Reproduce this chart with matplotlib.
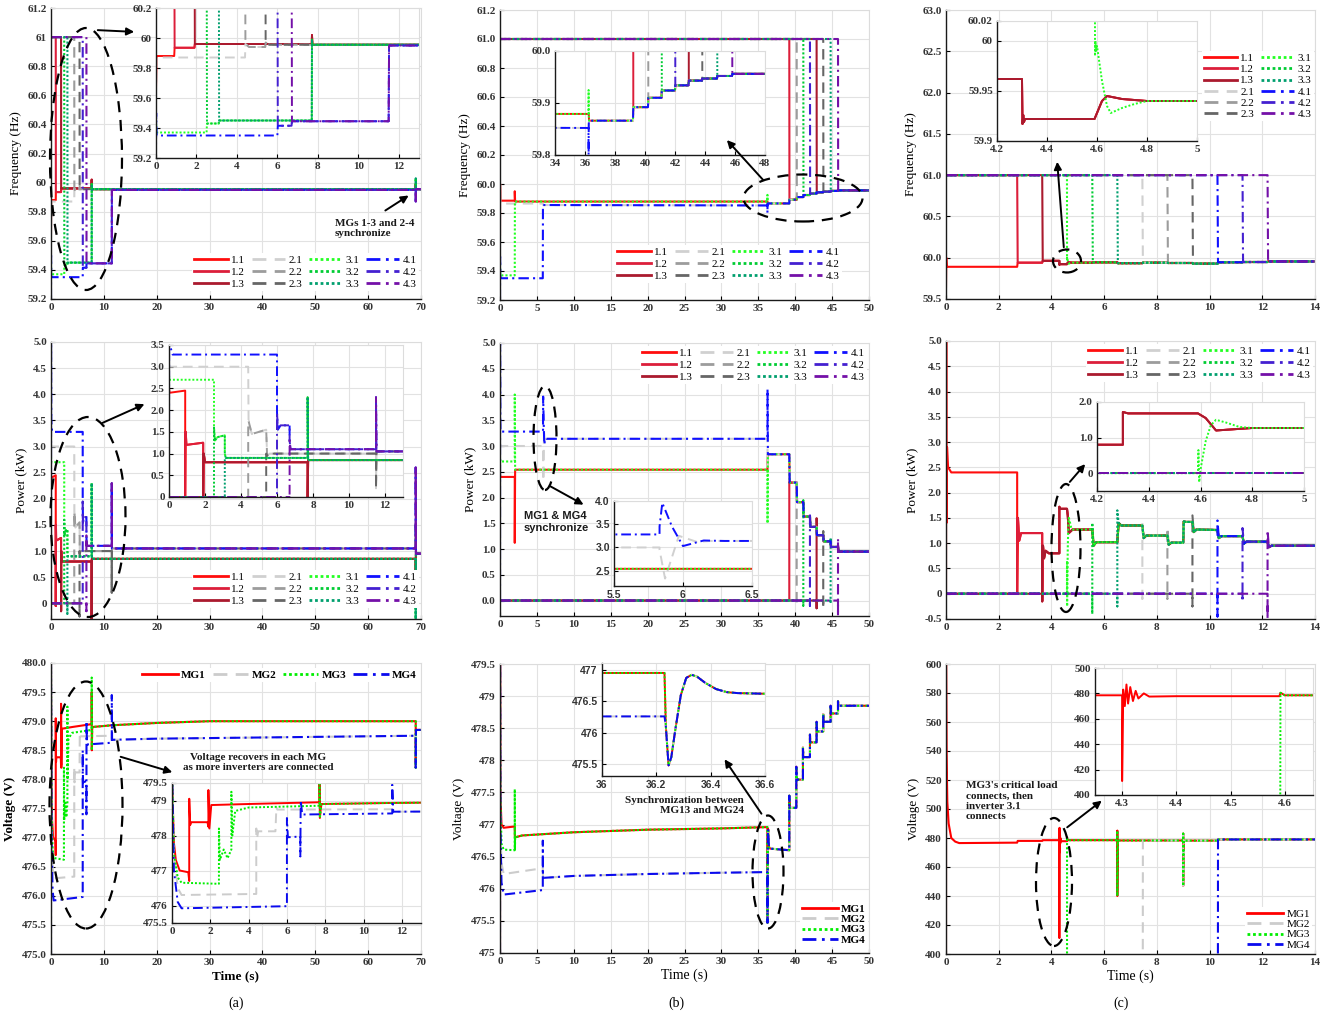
import matplotlib
matplotlib.use('Agg')
import matplotlib.pyplot as plt
from matplotlib.patches import Ellipse, FancyArrowPatch
from matplotlib.lines import Line2D

W, H = 1331, 1015

# ======================= DATA =======================
INV = ['1.1', '1.2', '1.3', '2.1', '2.2', '2.3', '3.1', '3.2', '3.3', '4.1', '4.2', '4.3']
MGS = ['MG1', 'MG2', 'MG3', 'MG4']
F_OFF = 61.0   # frequency reported by a not-yet-connected inverter
P_OFF = 0.0
V_OFF = 0.0

# ---- (a) frequency: per-MG curves (t, Hz) ----
FA_MG1_T = [0, 0.03, 0.9, 0.92, 1.9, 1.92, 7.7, 7.71, 7.73, 69.0, 69.01, 69.05, 70]
FA_MG1_V = [59.65, 59.88, 59.88, 59.935, 59.935, 59.96, 59.96, 60.02, 59.955, 59.955, 59.99, 59.955, 59.955]
FA_MG2_T = [0, 0.03, 4.4, 4.42, 4.6, 5.4, 5.42, 5.6, 70]
FA_MG2_V = [59.6, 59.87, 59.87, 59.96, 59.94, 59.94, 59.97, 59.955, 59.955]
FA_MG3_T = [0, 0.03, 2.5, 2.52, 3.1, 3.12, 7.7, 7.71, 7.73, 69.0, 69.01, 69.05, 70]
FA_MG3_V = [59.45, 59.37, 59.37, 59.43, 59.43, 59.45, 59.45, 59.99, 59.955, 59.955, 60.03, 59.955, 59.955]
FA_MG4_T = [0, 0.01, 0.03, 6.0, 6.02, 6.7, 6.72, 11.5, 11.52, 69.0, 69.01, 69.05, 70]
FA_MG4_V = [59.2, 59.5, 59.35, 59.35, 59.415, 59.415, 59.445, 59.445, 59.95, 59.95, 59.87, 59.955, 59.955]
A_CONN = {'1.2': 0.9, '1.3': 1.9, '2.2': 4.4, '2.3': 5.4, '3.2': 2.5, '3.3': 3.1, '4.2': 6.0, '4.3': 6.7}

# ---- (b) frequency ----
FB_MG1_T = [0, 0.01, 0.05, 2.0, 2.0, 2.05, 36.25]
FB_MG1_V = [59.65, 60.0, 59.885, 59.885, 59.95, 59.879, 59.879]
FB_MG2_T = [0, 0.01, 0.05, 5.8, 5.85, 36.25]
FB_MG2_V = [59.6, 60.0, 59.865, 59.865, 59.855, 59.852]
FB_MG3_T = [0, 0.01, 0.05, 2.0, 2.02, 36.23, 36.24, 36.25]
FB_MG3_V = [59.45, 59.42, 59.37, 59.37, 59.879, 59.879, 59.925, 59.879]
FB_MG4_T = [0, 0.01, 0.05, 5.8, 5.82, 36.23, 36.24, 36.25]
FB_MG4_V = [59.2, 59.5, 59.35, 59.35, 59.855, 59.852, 59.80, 59.86]
FB_TAIL_T = [36.27, 39.2, 39.22, 40.2, 40.22, 41.1, 41.12, 42.0, 42.02, 42.9, 42.92, 43.8, 43.82, 44.8, 44.82, 45.8, 45.82, 50]
FB_TAIL_V = [59.866, 59.866, 59.892, 59.892, 59.91, 59.91, 59.924, 59.924, 59.934, 59.934, 59.943, 59.943, 59.947, 59.947, 59.952, 59.952, 59.956, 59.956]
B_CONN = {'1.2': 39.2, '2.2': 40.2, '3.2': 41.1, '4.2': 42.0, '1.3': 42.9, '2.3': 43.8, '3.3': 44.8, '4.3': 45.8}

# ---- (c) frequency: common bus curve + inverter 3.1 transient ----
FC_T = [0, 0.01, 0.03, 2.7, 2.72, 3.65, 3.67, 4.3, 4.302, 4.305, 4.308, 4.312, 4.59, 4.6, 4.62, 4.64, 4.7, 4.8,
        5.55, 5.57, 6.5, 6.52, 7.45, 7.47, 8.4, 8.42, 9.35, 9.37, 10.3, 10.32, 11.25, 11.27, 12.2, 12.22, 14]
FC_V = [59.65, 60.0, 59.89, 59.89, 59.94, 59.94, 59.962, 59.962, 59.917, 59.926, 59.919, 59.922, 59.922, 59.928, 59.94, 59.945, 59.942, 59.94,
        59.94, 59.944, 59.944, 59.934, 59.934, 59.94, 59.94, 59.936, 59.936, 59.928, 59.928, 59.945, 59.945, 59.948, 59.948, 59.955, 59.955]
FC_31_T = [4.59, 4.592, 4.594, 4.596, 4.6, 4.62, 4.64, 4.655, 4.7, 4.75, 4.8]
FC_31_V = [60.06, 59.985, 60.0, 59.99, 59.995, 59.96, 59.935, 59.928, 59.933, 59.937, 59.94]
C_CONN = {'1.2': 2.7, '1.3': 3.65, '3.1': 4.59, '3.2': 5.55, '3.3': 6.5, '2.1': 7.45, '2.2': 8.4, '2.3': 9.35,
          '4.1': 10.3, '4.2': 11.25, '4.3': 12.2}

# ---- (a) power (kW) ----
PA_MG1_T = [0, 0.03, 0.9, 0.9, 0.93, 0.97, 1.9, 1.9, 1.93, 2.0, 7.7, 7.7, 7.73, 69.0, 69.0, 69.05, 70]
PA_MG1_V = [2.5, 2.4, 2.45, -0.05, 1.5, 1.2, 1.25, -0.15, 1.0, 0.8, 0.8, -0.3, 0.85, 0.85, 0.5, 0.95, 0.95]
PA_MG2_T = [0, 0.03, 4.4, 4.42, 4.6, 5.4, 5.45, 5.6, 11.5, 11.5, 11.53, 69.0, 69.0, 69.05, 70]
PA_MG2_V = [3.05, 3.0, 3.0, 1.75, 1.45, 1.55, 0.95, 1.0, 1.0, 0.2, 1.05, 1.05, 1.5, 0.95, 0.95]
PA_MG3_T = [0, 0.03, 2.5, 2.5, 2.55, 2.7, 3.1, 3.1, 3.15, 3.3, 7.7, 7.7, 7.73, 69.0, 69.0, 69.05, 70]
PA_MG3_V = [2.8, 2.7, 2.7, 1.6, 1.3, 1.38, 1.42, 1.0, 0.9, 0.9, 0.9, 2.3, 0.85, 0.85, -0.3, 0.95, 0.95]
PA_MG4_T = [0, 0.01, 0.05, 0.2, 6.0, 6.0, 6.05, 6.2, 6.7, 6.7, 6.75, 11.5, 11.5, 11.53, 69.0, 69.0, 69.05, 70]
PA_MG4_V = [0, 5.0, 3.5, 3.28, 3.28, 1.95, 1.55, 1.65, 1.65, 1.3, 1.1, 1.1, 2.3, 1.05, 1.05, 2.6, 0.95, 0.95]
PA_CONN_LO = {'1.2': -0.05, '1.3': -0.15, '2.2': 0.0, '2.3': -0.25, '3.2': 0.0, '3.3': -0.2, '4.2': 0.0, '4.3': -0.15}
PA_CONN_HI = {'1.2': 1.5, '1.3': 1.0, '2.2': 1.75, '2.3': 1.0, '3.2': 1.6, '3.3': 0.9, '4.2': 1.95, '4.3': 1.3}

# ---- (b) power ----
PB_MG1_T = [0, 0.05, 2.0, 2.0, 2.05, 36.25, 36.25]
PB_MG1_V = [2.45, 2.4, 2.4, 1.12, 2.54, 2.54, 2.7]
PB_MG2_T = [0, 0.05, 5.83, 5.83, 5.87, 5.97, 6.1, 6.2, 36.25, 36.25]
PB_MG2_V = [3.05, 3.0, 3.0, 2.95, 2.33, 3.25, 3.12, 3.14, 3.14, 2.6]
PB_MG3_T = [0, 0.05, 2.0, 2.0, 2.05, 36.25, 36.25]
PB_MG3_V = [2.75, 2.7, 2.7, 4.0, 2.54, 2.54, 1.5]
PB_MG4_T = [0, 0.01, 0.05, 5.83, 5.83, 5.85, 5.92, 6.0, 6.15, 6.3, 36.25, 36.25]
PB_MG4_V = [0, 5.0, 3.28, 3.28, 3.45, 3.96, 3.45, 3.03, 3.15, 3.14, 3.14, 4.1]
PB_TAIL_T = [36.3, 39.2, 39.25, 40.2, 40.25, 41.1, 41.15, 42.0, 42.05, 42.9, 42.95, 43.8, 43.85, 44.8, 44.85, 45.8, 45.85, 50]
PB_TAIL_V = [2.84, 2.84, 2.29, 2.29, 1.91, 1.91, 1.63, 1.63, 1.43, 1.43, 1.27, 1.27, 1.15, 1.15, 1.04, 1.04, 0.95, 0.95]
PB_CONN_LO = {'1.2': 0.0, '2.2': -0.05, '3.2': -0.1, '4.2': -0.1, '1.3': -0.15, '2.3': -0.15, '3.3': -0.05, '4.3': -0.3}
PB_CONN_HI = {'1.2': 2.3, '2.2': 2.3, '3.2': 1.95, '4.2': 1.7, '1.3': 1.6, '2.3': 1.35, '3.3': 1.22, '4.3': 1.2}

# ---- (c) power: common curve + inverter 3.1 transient ----
PC_T = [0, 0.01, 0.02, 0.04, 0.08, 0.2, 2.7, 2.7, 2.73, 2.78, 2.85, 3.65, 3.65, 3.68, 3.72, 3.78, 3.9,
        4.3, 4.3, 4.32, 4.59, 4.62, 4.66, 4.7, 4.8, 5.55, 5.6, 5.7, 6.5, 6.55, 6.65, 7.45, 7.5, 7.6,
        8.4, 8.45, 8.55, 9.0, 9.02, 9.1, 9.35, 9.4, 9.5, 10.3, 10.35, 10.45, 11.25, 11.3, 11.4, 12.2, 12.25, 12.35, 14]
PC_V = [0, 5.0, 1.4, 2.9, 2.5, 2.4, 2.4, 0.0, 1.5, 1.05, 1.2, 1.2, -0.15, 0.95, 0.7, 0.85, 0.8,
        0.8, 1.72, 1.68, 1.68, 1.55, 1.2, 1.22, 1.27, 1.27, 0.95, 1.02, 1.02, 1.4, 1.35, 1.35, 1.1, 1.15,
        1.15, 0.97, 1.01, 1.01, 1.43, 1.42, 1.42, 1.22, 1.27, 1.26, 1.1, 1.14, 1.14, 0.99, 1.03, 1.03, 0.92, 0.95, 0.95]
PC_31_T = [4.59, 4.592, 4.595, 4.6, 4.62, 4.64, 4.66, 4.7, 4.75, 4.8]
PC_31_V = [0.0, 0.65, -0.25, 0.1, 0.9, 1.35, 1.5, 1.42, 1.3, 1.27]
PC_CONN_LO = {'1.2': 0.0, '1.3': -0.15, '3.1': 0.0, '3.2': -0.4, '3.3': -0.25, '2.1': -0.1, '2.2': -0.1, '2.3': -0.25,
              '4.1': -0.45, '4.2': -0.15, '4.3': -0.5}
PC_CONN_HI = {'1.2': 1.5, '1.3': 0.95, '3.1': 0.0, '3.2': 1.4, '3.3': 1.65, '2.1': 1.4, '2.2': 1.3, '2.3': 1.55,
              '4.1': 1.45, '4.2': 1.3, '4.3': 1.25}

# ---- (a) voltage (V) ----
VA_MG1_T = [0, 0.01, 0.1, 0.2, 0.4, 0.85, 0.9, 0.9, 0.95, 1.0, 1.85, 1.9, 1.9, 1.95, 2.05, 4.0,
            7.7, 7.7, 7.72, 7.8, 11.5, 20, 30, 50, 69.0, 69.0, 69.05, 70]
VA_MG1_V = [480.0, 479.5, 477.8, 477.3, 477.0, 476.95, 476.7, 479.05, 478.3, 478.38, 478.38, 478.25, 479.3, 478.2, 478.87, 478.9,
            478.95, 479.5, 478.5, 478.9, 478.93, 478.97, 479.0, 479.0, 479.0, 478.2, 478.85, 478.85]
VA_MG2_T = [0, 0.1, 0.3, 0.5, 4.4, 4.4, 4.45, 4.5, 5.4, 5.45, 5.5, 11.5, 11.55, 20, 69.0, 69.0, 69.05, 70]
VA_MG2_V = [480.0, 477.5, 476.5, 476.3, 476.33, 478.2, 477.95, 478.12, 478.12, 478.8, 478.74, 478.75, 478.68, 478.7, 478.75, 478.2, 478.85, 478.85]
VA_MG3_T = [0, 0.1, 0.3, 0.5, 2.45, 2.45, 2.5, 2.7, 2.9, 3.1, 3.1, 3.15, 3.3, 4.0, 7.7, 7.7, 7.72, 7.8]
VA_MG3_V = [480.0, 477.5, 476.8, 476.65, 476.62, 478.2, 477.3, 477.6, 477.35, 477.6, 479.25, 478.0, 478.7, 478.8, 478.85, 479.75, 478.5, 478.9]
VA_MG4_T = [0, 0, 0.1, 0.3, 0.5, 6.0, 6.0, 6.05, 6.7, 6.7, 6.72, 6.8, 11.5, 11.5, 11.55, 20, 69.0, 69.0, 69.05, 70]
VA_MG4_V = [475.0, 480.0, 477.0, 476.1, 475.92, 475.98, 478.5, 477.95, 477.97, 477.4, 479.0, 478.6, 478.63, 479.45, 478.68, 478.7, 478.75, 478.2, 478.85, 478.85]

# ---- (b) voltage ----
VB_MG1_T = [0, 0.01, 0.05, 0.2, 0.5, 2.0, 2.02, 3.0, 10, 20, 30, 36.23]
VB_MG1_V = [475.0, 479.5, 477.5, 477.0, 476.95, 476.97, 476.8, 476.83, 476.88, 476.92, 476.94, 476.96]
VB_MG2_T = [0, 0.05, 0.2, 0.5, 5.8, 5.82, 5.9, 10, 20, 30, 36.23]
VB_MG2_V = [479.0, 477.0, 476.4, 476.23, 476.32, 476.2, 476.17, 476.2, 476.23, 476.25, 476.26]
VB_MG3_T = [0, 0.05, 0.2, 0.5, 2.0, 2.0, 2.02, 2.05, 3.0, 10, 20, 30, 36.23]
VB_MG3_V = [479.5, 477.5, 476.7, 476.61, 476.6, 477.55, 476.6, 476.8, 476.83, 476.88, 476.92, 476.94, 476.96]
VB_MG4_T = [0, 0.01, 0.05, 0.2, 0.5, 5.8, 5.8, 5.82, 5.9, 10, 20, 30, 36.23]
VB_MG4_V = [475.0, 479.5, 477.0, 476.1, 475.91, 475.98, 476.75, 476.2, 476.17, 476.2, 476.23, 476.25, 476.26]
VB_TAIL_T = [36.235, 36.245, 36.255, 36.27, 36.29, 36.31, 36.33, 36.35, 36.38, 36.42, 36.46, 36.5, 36.6,
             39.2, 39.2, 39.25, 40.15, 40.15, 40.2, 41.05, 41.05, 41.1, 42.0, 42.0, 42.05, 42.9, 42.9, 42.95,
             43.8, 43.8, 43.85, 44.8, 44.8, 44.85, 45.8, 45.8, 45.85, 50]
VB_TAIL_V = [476.1, 475.47, 475.6, 476.05, 476.6, 476.88, 476.93, 476.9, 476.8, 476.7, 476.65, 476.635, 476.625,
             476.6, 477.45, 477.26, 477.26, 477.9, 477.7, 477.7, 478.2, 478.05, 478.05, 478.4, 478.28, 478.28, 478.6, 478.45,
             478.45, 478.72, 478.6, 478.6, 478.85, 478.73, 478.73, 478.92, 478.85, 478.85]

# ---- (c) voltage: MG1 bus curve, other MGs connect later ----
VC_T = [0, 0.003, 0.02, 0.05, 0.1, 0.2, 0.35, 0.5, 2.7, 2.72, 3.65, 3.67,
        4.3, 4.3, 4.302, 4.305, 4.308, 4.311, 4.315, 4.32, 4.325, 4.33, 4.34, 4.35, 4.4,
        4.59, 4.592, 4.6, 6.5, 6.5, 6.5, 6.52, 7.45, 7.47, 9.0, 9.0, 9.0, 9.02, 10.3, 10.32, 14]
VC_V = [400, 600, 540, 505, 490, 480, 477.5, 476.5, 476.8, 478.0, 478.0, 478.5,
        478.5, 411, 483, 470, 487, 472, 485, 474, 482, 476, 480, 477.5, 477.8,
        477.8, 480.5, 478.5, 478.5, 485, 440, 478.3, 478.3, 478.3, 478.3, 483, 447, 478.2, 478.2, 479.0, 479.0]
VC_CONN = {'MG2': 7.45, 'MG3': 4.59, 'MG4': 10.3}

# ---- tick labels ----
FA_YT = ['59.2', '59.4', '59.6', '59.8', '60', '60.2', '60.4', '60.6', '60.8', '61', '61.2']
FB_YT = ['59.2', '59.4', '59.6', '59.8', '60.0', '60.2', '60.4', '60.6', '60.8', '61.0', '61.2']
FC_YT = ['59.5', '60.0', '60.5', '61.0', '61.5', '62.0', '62.5', '63.0']
PA_YT = ['0', '0.5', '1.0', '1.5', '2.0', '2.5', '3.0', '3.5', '4.0', '4.5', '5.0']
PB_YT = ['0.0', '0.5', '1.0', '1.5', '2.0', '2.5', '3.0', '3.5', '4.0', '4.5', '5.0']
PC_YT = ['-0.5', '0', '0.5', '1.0', '1.5', '2.0', '2.5', '3.0', '3.5', '4.0', '4.5', '5.0']
VA_YT = ['475.0', '475.5', '476.0', '476.5', '477.0', '477.5', '478.0', '478.5', '479.0', '479.5', '480.0']
VB_YT = ['475', '475.5', '476', '476.5', '477', '477.5', '478', '478.5', '479', '479.5']
VC_YT = ['400', '420', '440', '460', '480', '500', '520', '540', '560', '580', '600']

# ======================= STYLE =======================
SERIF = 'Liberation Serif'
SANS = 'Liberation Sans'
TC = '#333333'
DASH = (0, (5, 3))
DOT = (0, (1, 1))
DDOT = (0, (5, 2, 1, 2))
STYLE = {
    '1.1': ('#ff0d0d', '-'), '1.2': ('#dc1e3a', '-'), '1.3': ('#aa1a2e', '-'),
    '2.1': ('#d0d0d0', DASH), '2.2': ('#9c9c9c', DASH), '2.3': ('#666666', DASH),
    '3.1': ('#22ff22', DOT), '3.2': ('#00cc33', DOT), '3.3': ('#009f6e', DOT),
    '4.1': ('#1010ff', DDOT), '4.2': ('#4420d0', DDOT), '4.3': ('#7410a8', DDOT),
}
MSTYLE = {'MG1': ('#ff0000', '-'), 'MG2': ('#cccccc', DASH), 'MG3': ('#00ee00', DOT), 'MG4': ('#0a0aee', DDOT)}


# ======================= helpers =======================
def after(t, v, t0):
    return [a for a in t if a > t0], [b for a, b in zip(t, v) if a > t0]


def chain(ht, hv, tt, tv):
    a, b = after(tt, tv, ht[-1])
    return list(ht) + a, list(hv) + b


def connect(off, tc, lo, hi, bt, bv):
    a, b = after(bt, bv, tc)
    return [0, tc, tc, tc] + a, [off, off, lo, hi] + b


fig = plt.figure(figsize=(W / 100, H / 100), dpi=100)


def px_axes(box, z=1):
    l, t, r, b = box
    ax = fig.add_axes([l / W, 1 - b / H, (r - l) / W, (b - t) / H])
    ax.set_zorder(z)
    return ax


def fmt(ax, xlim, xt, xl, ylim, yt, yl, family=SERIF, size=8):
    ax.set_xlim(*xlim)
    ax.set_ylim(*ylim)
    ax.set_xticks(xt)
    ax.set_yticks(yt)
    fp = dict(family=family, weight='bold', size=size, color=TC)
    ax.set_xticklabels(xl, **fp)
    ax.set_yticklabels(yl, **fp)
    ax.grid(True, color='#e2e2e2', lw=0.8)
    ax.set_axisbelow(True)
    for s in ['top', 'right']:
        ax.spines[s].set_color('#dcdcdc')
        ax.spines[s].set_linewidth(0.8)
    for s in ['left', 'bottom']:
        ax.spines[s].set_color('#1a1a1a')
        ax.spines[s].set_linewidth(1.0)
    ax.tick_params(direction='in', length=3, width=0.8, pad=3)


def draw(ax, series, styles, lw=1.5):
    for lab, (t, v) in series.items():
        c, ls = styles[lab]
        ax.plot(t, v, color=c, ls=ls, lw=lw)


def legend(ax, labels, styles, ncol, anchor, loc, size=8, weight='normal', hl=3.0, cs=0.6, ls=0.18):
    hs = [Line2D([], [], color=styles[l][0], ls=styles[l][1], lw=2.0) for l in labels]
    leg = ax.legend(hs, labels, ncol=ncol, loc=loc, bbox_to_anchor=(anchor[0] / W, 1 - anchor[1] / H),
                    bbox_transform=fig.transFigure, prop=dict(family=SERIF, size=size, weight=weight),
                    frameon=True, handlelength=hl, handletextpad=0.3, columnspacing=cs, labelspacing=ls,
                    borderpad=0.2, borderaxespad=0, fancybox=False)
    leg.get_frame().set_facecolor('white')
    leg.get_frame().set_edgecolor('none')
    leg.get_frame().set_alpha(1)
    return leg


def ellipse(cx, cy, w, h):
    e = Ellipse((cx / W, 1 - cy / H), w / W, h / H, transform=fig.transFigure, fill=False,
                ec='black', lw=1.6, ls=(0, (5, 3.5)), zorder=10)
    fig.add_artist(e)


def arrow(x0, y0, x1, y1):
    a = FancyArrowPatch((x0 / W, 1 - y0 / H), (x1 / W, 1 - y1 / H), transform=fig.transFigure,
                        arrowstyle='-|>', mutation_scale=11, lw=1.4, color='black', zorder=11)
    fig.add_artist(a)


def ftext(x, y, s, **kw):
    fig.text(x / W, 1 - y / H, s, **kw)


# ======================= build series =======================
def inverter_series(mg_curves, conn, off, lo=None, hi=None, special=None):
    out = {}
    for lab in INV:
        bt, bv = mg_curves[lab[0]]
        if special and lab in special:
            bt, bv = special[lab]
        if lab in conn:
            l = off if lo is None else lo[lab]
            h = off if hi is None else hi[lab]
            out[lab] = connect(off, conn[lab], l, h, bt, bv)
        else:
            out[lab] = (bt, bv)
    return out


FA = {'1': (FA_MG1_T, FA_MG1_V), '2': (FA_MG2_T, FA_MG2_V), '3': (FA_MG3_T, FA_MG3_V), '4': (FA_MG4_T, FA_MG4_V)}
FB = {'1': chain(FB_MG1_T, FB_MG1_V, FB_TAIL_T, FB_TAIL_V), '2': chain(FB_MG2_T, FB_MG2_V, FB_TAIL_T, FB_TAIL_V),
      '3': chain(FB_MG3_T, FB_MG3_V, FB_TAIL_T, FB_TAIL_V), '4': chain(FB_MG4_T, FB_MG4_V, FB_TAIL_T, FB_TAIL_V)}
FCm = {k: (FC_T, FC_V) for k in '1234'}
PA = {'1': (PA_MG1_T, PA_MG1_V), '2': (PA_MG2_T, PA_MG2_V), '3': (PA_MG3_T, PA_MG3_V), '4': (PA_MG4_T, PA_MG4_V)}
PB = {'1': chain(PB_MG1_T, PB_MG1_V, PB_TAIL_T, PB_TAIL_V), '2': chain(PB_MG2_T, PB_MG2_V, PB_TAIL_T, PB_TAIL_V),
      '3': chain(PB_MG3_T, PB_MG3_V, PB_TAIL_T, PB_TAIL_V), '4': chain(PB_MG4_T, PB_MG4_V, PB_TAIL_T, PB_TAIL_V)}
PCm = {k: (PC_T, PC_V) for k in '1234'}

S_FA = inverter_series(FA, A_CONN, F_OFF)
S_FB = inverter_series(FB, B_CONN, F_OFF)
S_FC = inverter_series(FCm, C_CONN, F_OFF, special={'3.1': chain(FC_31_T, FC_31_V, FC_T, FC_V)})
S_PA = inverter_series(PA, A_CONN, P_OFF, PA_CONN_LO, PA_CONN_HI)
S_PB = inverter_series(PB, B_CONN, P_OFF, PB_CONN_LO, PB_CONN_HI)
S_PC = inverter_series(PCm, C_CONN, P_OFF, PC_CONN_LO, PC_CONN_HI, special={'3.1': chain(PC_31_T, PC_31_V, PC_T, PC_V)})

S_VA = {'MG1': (VA_MG1_T, VA_MG1_V), 'MG2': (VA_MG2_T, VA_MG2_V),
        'MG3': chain(VA_MG3_T, VA_MG3_V, VA_MG1_T, VA_MG1_V), 'MG4': (VA_MG4_T, VA_MG4_V)}
S_VB = {'MG1': chain(VB_MG1_T, VB_MG1_V, VB_TAIL_T, VB_TAIL_V), 'MG2': chain(VB_MG2_T, VB_MG2_V, VB_TAIL_T, VB_TAIL_V),
        'MG3': chain(VB_MG3_T, VB_MG3_V, VB_TAIL_T, VB_TAIL_V), 'MG4': chain(VB_MG4_T, VB_MG4_V, VB_TAIL_T, VB_TAIL_V)}
S_VC = {'MG1': (VC_T, VC_V)}
for m in ['MG2', 'MG3', 'MG4']:
    S_VC[m] = connect(V_OFF, VC_CONN[m], V_OFF, V_OFF, VC_T, VC_V)


def rng(a, b, s):
    out, x = [], a
    while x <= b + 1e-9:
        out.append(round(x, 4))
        x += s
    return out


def lbl(vals):
    return ['%g' % v for v in vals]


# ======================= ROW 1: frequency =======================
ylab = dict(family=SERIF, size=9.5)

ax = px_axes((51, 8, 421, 299))
draw(ax, S_FA, STYLE)
fmt(ax, (0, 70), rng(0, 70, 10), lbl(rng(0, 70, 10)), (59.2, 61.2), rng(59.2, 61.2, 0.2), FA_YT)
ax.set_ylabel('Frequency (Hz)', **ylab)
legend(ax, INV, STYLE, 4, (419, 291), 'lower right')
ia = px_axes((156, 8, 419, 158), 3)
draw(ia, S_FA, STYLE, lw=1.4)
fmt(ia, (0, 13), rng(0, 12, 2), lbl(rng(0, 12, 2)), (59.2, 60.2), rng(59.2, 60.2, 0.2), FA_YT[:6])

ax = px_axes((500, 10, 869, 300))
draw(ax, S_FB, STYLE)
fmt(ax, (0, 50), rng(0, 50, 5), lbl(rng(0, 50, 5)), (59.2, 61.2), rng(59.2, 61.2, 0.2), FB_YT)
ax.set_ylabel('Frequency (Hz)', **ylab)
legend(ax, INV, STYLE, 4, (842, 283), 'lower right')
ia = px_axes((555, 51, 765, 155), 3)
draw(ia, S_FB, STYLE, lw=1.4)
fmt(ia, (34, 48), rng(34, 48, 2), lbl(rng(34, 48, 2)), (59.8, 60.0), [59.8, 59.9, 60.0], ['59.8', '59.9', '60.0'])

ax = px_axes((946, 10, 1315, 299))
draw(ax, S_FC, STYLE)
fmt(ax, (0, 14), rng(0, 14, 2), lbl(rng(0, 14, 2)), (59.5, 63.0), rng(59.5, 63.0, 0.5), FC_YT)
ax.set_ylabel('Frequency (Hz)', **ylab)
legend(ax, INV, STYLE, 2, (1314, 51), 'upper right', ls=0.13)
ia = px_axes((997, 21, 1197, 141), 3)
draw(ia, S_FC, STYLE, lw=1.4)
fmt(ia, (4.2, 5.0), [4.2, 4.4, 4.6, 4.8, 5.0], ['4.2', '4.4', '4.6', '4.8', '5'], (59.9, 60.02),
    [59.9, 59.95, 60.0, 60.02], ['59.9', '59.95', '60', '60.02'])

# ======================= ROW 2: power =======================
ax = px_axes((51, 342, 421, 619))
draw(ax, S_PA, STYLE)
fmt(ax, (0, 70), rng(0, 70, 10), lbl(rng(0, 70, 10)), (-0.3, 5.0), rng(0, 5, 0.5), PA_YT)
ax.set_ylabel('Power (kW)', **ylab)
legend(ax, INV, STYLE, 4, (419, 608), 'lower right')
ia = px_axes((169, 345, 403, 497), 3)
draw(ia, S_PA, STYLE, lw=1.4)
fmt(ia, (0, 13), rng(0, 12, 2), lbl(rng(0, 12, 2)), (0, 3.5), rng(0, 3.5, 0.5), PA_YT[:8])

ax = px_axes((500, 343, 869, 616))
draw(ax, S_PB, STYLE)
fmt(ax, (0, 50), rng(0, 50, 5), lbl(rng(0, 50, 5)), (-0.3, 5.0), rng(0, 5, 0.5), PB_YT)
ax.set_ylabel('Power (kW)', **ylab)
legend(ax, INV, STYLE, 4, (867, 346), 'upper right')
ia = px_axes((614, 501, 752, 586), 3)
draw(ia, S_PB, STYLE, lw=1.4)
fmt(ia, (5.5, 6.5), [5.5, 6.0, 6.5], ['5.5', '6', '6.5'], (2.17, 4.0), [2.5, 3.0, 3.5, 4.0],
    ['2.5', '3.0', '3.5', '4.0'], family=SANS, size=7.5)

ax = px_axes((946, 341, 1315, 619))
draw(ax, S_PC, STYLE)
fmt(ax, (0, 14), rng(0, 14, 2), lbl(rng(0, 14, 2)), (-0.5, 5.0), rng(-0.5, 5.0, 0.5), PC_YT)
ax.set_ylabel('Power (kW)', **ylab)
legend(ax, INV, STYLE, 4, (1313, 344), 'upper right')
ia = px_axes((1097, 402, 1304, 491), 3)
draw(ia, S_PC, STYLE, lw=1.4)
fmt(ia, (4.2, 5.0), [4.2, 4.4, 4.6, 4.8, 5.0], ['4.2', '4.4', '4.6', '4.8', '5'], (-0.5, 2.0),
    [0, 1.0, 2.0], ['0', '1.0', '2.0'])

# ======================= ROW 3: voltage =======================
ax = px_axes((51, 663, 421, 954))
draw(ax, S_VA, MSTYLE)
fmt(ax, (0, 70), rng(0, 70, 10), lbl(rng(0, 70, 10)), (475, 480), rng(475, 480, 0.5), VA_YT)
ax.set_ylabel('Voltage (V)', family=SERIF, size=9.5, weight='bold')
ax.set_xlabel('Time (s)', family=SERIF, size=9.5, weight='bold', labelpad=2)
legend(ax, MGS, MSTYLE, 4, (419, 668), 'upper right', weight='bold', hl=3.2)
ia = px_axes((172, 783, 421, 923), 3)
draw(ia, S_VA, MSTYLE, lw=1.4)
fmt(ia, (0, 13), rng(0, 12, 2), lbl(rng(0, 12, 2)), (475.5, 479.5), [475.5, 476, 477, 478, 479, 479.5],
    ['475.5', '476', '477', '478', '479', '479.5'])

ax = px_axes((500, 664, 869, 953))
draw(ax, S_VB, MSTYLE)
fmt(ax, (0, 50), rng(0, 50, 5), lbl(rng(0, 50, 5)), (475, 479.5), rng(475, 479.5, 0.5), VB_YT)
ax.set_ylabel('Voltage (V)', **ylab)
ax.set_xlabel('Time (s)', family=SERIF, size=10, labelpad=2)
legend(ax, MGS, MSTYLE, 1, (868, 947), 'lower right', weight='bold', hl=3.2, ls=0.05)
ia = px_axes((602, 663, 765, 776), 3)
draw(ia, S_VB, MSTYLE, lw=1.4)
fmt(ia, (36, 36.6), [36, 36.2, 36.4, 36.6], ['36', '36.2', '36.4', '36.6'], (475.3, 477.12),
    [475.5, 476, 476.5, 477], ['475.5', '476', '476.5', '477'], family=SANS, size=7.5)

ax = px_axes((946, 664, 1315, 954))
draw(ax, S_VC, MSTYLE)
fmt(ax, (0, 14), rng(0, 14, 2), lbl(rng(0, 14, 2)), (400, 600), rng(400, 600, 20), VC_YT)
ax.set_ylabel('Voltage (V)', **ylab)
ax.set_xlabel('Time (s)', family=SERIF, size=10, labelpad=2)
legend(ax, MGS, MSTYLE, 1, (1312, 952), 'lower right', weight='normal', hl=3.2, ls=0.05)
ia = px_axes((1095, 668, 1313, 795), 3)
draw(ia, S_VC, MSTYLE, lw=1.4)
fmt(ia, (4.25, 4.652), [4.3, 4.4, 4.5, 4.6], ['4.3', '4.4', '4.5', '4.6'], (400, 500),
    rng(400, 500, 20), lbl(rng(400, 500, 20)))

# ======================= annotations =======================
for (cx, cy, w, h) in [(86, 159, 72, 262), (803, 198, 119, 47), (1067, 261, 28, 23),
                       (88, 517, 75, 200), (545, 438, 23, 104), (1066, 548, 29, 128),
                       (86, 805, 73, 247), (768, 872, 31, 113), (1054, 882, 36, 128)]:
    ellipse(cx, cy, w, h)

for (x0, y0, x1, y1) in [(95, 30, 137, 32), (383, 212, 411, 194), (765, 182, 725, 138), (1064, 250, 1057, 159),
                         (100, 424, 147, 403), (548, 485, 586, 506), (1068, 484, 1087, 462),
                         (118, 756, 175, 773), (763, 816, 723, 757), (1065, 829, 1104, 799)]:
    arrow(x0, y0, x1, y1)

bt = dict(family=SERIF, size=8, weight='bold', color='#1a1a1a')
ftext(335, 219, 'MGs 1-3 and 2-4\nsynchronize', ha='left', va='top', linespacing=1.15, **bt)
ftext(524, 511, 'MG1 & MG4\nsynchronize', ha='left', va='top', linespacing=1.2,
      family=SANS, size=8, weight='bold', color='#1a1a1a')
ftext(258, 753, 'Voltage recovers in each MG\nas more inverters are connected', ha='center', va='top',
      linespacing=1.15, **bt)
ftext(744, 796, 'Synchronization between\nMG13 and MG24', ha='right', va='top', multialignment='right',
      linespacing=1.1, **bt)
ftext(966, 781, "MG3's critical load\nconnects, then\ninverter 3.1\nconnects", ha='left', va='top',
      linespacing=1.2, **bt)

for x, s in [(236, '(a)'), (676, '(b)'), (1121, '(c)')]:
    ftext(x, 1003, s, ha='center', va='center', family=SERIF, size=10)

fig.savefig('out.png', dpi=100)
